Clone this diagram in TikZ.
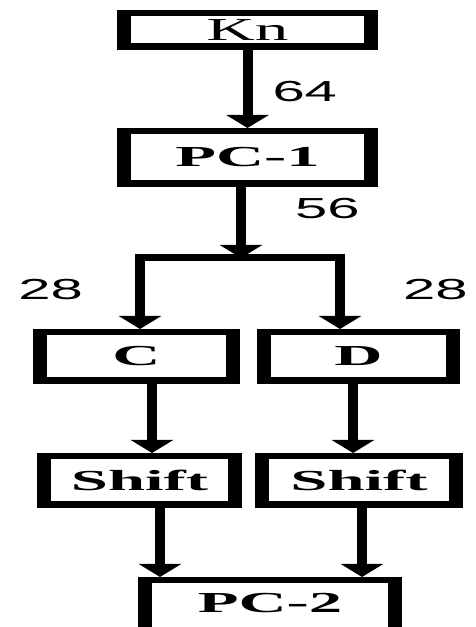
\documentclass[tikz,border=0pt]{standalone}
\usepackage{fontspec}
\usetikzlibrary{positioning,arrows.meta}
\newfontfamily\boxfont[FakeStretch=2.3]{Liberation Serif}
\newfontfamily\knfont[FakeStretch=2.1]{Liberation Serif}
\newfontfamily\numfont[FakeStretch=2.0]{Liberation Sans}
\tikzset{
  blk/.style={fill=black, inner sep=0pt, outer sep=0pt, minimum width=#1, minimum height=55pt,
    font={\boxfont\bfseries\fontsize{29pt}{29pt}\selectfont},
    path picture={\fill[white] ([xshift=14pt,yshift=-6.5pt]path picture bounding box.north west)
      rectangle ([xshift=-14pt,yshift=6.5pt]path picture bounding box.south east);}},
  flow/.style={line width=10pt, -{Triangle[width=42pt,length=13pt]}},
  bar/.style={line width=7pt},
  num/.style={font={\numfont\fontsize{29pt}{29pt}\selectfont}, inner sep=0pt}
}

\begin{document}
\begin{tikzpicture}[x=1pt, y=1pt]
\useasboundingbox (0,0) rectangle (476,627);
\clip (0,0) rectangle (476,627);
\fill[white] (0,0) rectangle (476,627);

    % Key and first permuted choice
\node[blk=261pt, minimum height=40pt, font={\knfont\fontsize{32pt}{32pt}\selectfont}] (kn) at (247.5,597) {Kn};
\node[blk=261pt, minimum height=59pt, below=78pt of kn] (pc1) {PC-1};

    % Halves C and D
\node[blk=207pt, below=142pt of pc1, xshift=-111pt] (c) {C};
\node[blk=203pt, right=17pt of c] (d) {D};

    % Shifts
\node[blk=205pt, below=69pt of c, xshift=3pt] (shl) {Shift};
\node[blk=208pt, right=13pt of shl] (shr) {Shift};

    % Second permuted choice
\node[blk=264pt, minimum height=72pt, text depth=21pt, below=69pt of shl, xshift=130.5pt] (pc2) {PC-2};

    % Split point and connector ends
\coordinate[below=71pt of pc1, xshift=-6.5pt] (split);
\path ([xshift=3.5pt]c.north) coordinate (cin)
      ([xshift=-18.5pt]d.north) coordinate (din)
      ([xshift=15.5pt]c.south) coordinate (cout)
      ([xshift=-5.5pt]d.south) coordinate (dout)
      ([xshift=20.5pt]shl.south) coordinate (shlout)
      ([xshift=3pt]shr.south) coordinate (shrout);

    % Connections
    \draw[flow] (kn) -- (pc1) node[num, midway, right=20pt, yshift=-3pt] (l64) {64};
    \draw[flow] ([xshift=-6.5pt]pc1.south) -- (split) node[num, midway, right=49pt, yshift=13.5pt] (l56) {56};
    \draw[bar, shorten <=-5pt, shorten >=-5pt] (split -| cin) -- (split -| din);
    \draw[flow] (split -| cin) -- (cin) node[num, midway, left=52pt, yshift=4pt] (l28c) {28};
    \draw[flow] (split -| din) -- (din) node[num, midway, right=58pt, yshift=4pt] (l28d) {28};
    \draw[flow] (cout) -- (cout |- shl.north);
    \draw[flow] (dout) -- (dout |- shr.north);
    \draw[flow] (shlout) -- (shlout |- pc2.north);
    \draw[flow] (shrout) -- (shrout |- pc2.north);
\end{tikzpicture}
\end{document}
